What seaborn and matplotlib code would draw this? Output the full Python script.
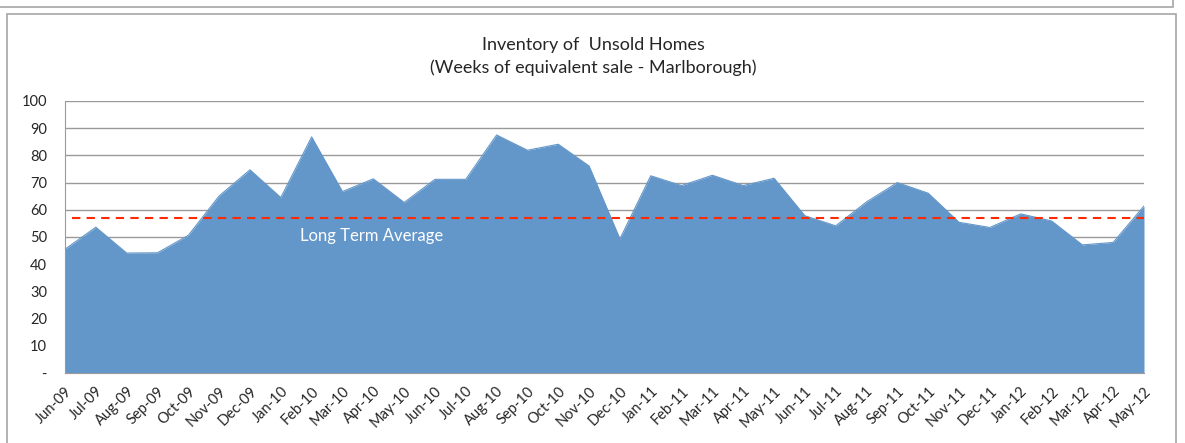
import matplotlib
matplotlib.use('Agg')
import matplotlib.pyplot as plt
import seaborn as sns
import numpy as np
import pandas as pd
from matplotlib.patches import Rectangle

months = ['Jun-09', 'Jul-09', 'Aug-09', 'Sep-09', 'Oct-09', 'Nov-09', 'Dec-09',
          'Jan-10', 'Feb-10', 'Mar-10', 'Apr-10', 'May-10', 'Jun-10', 'Jul-10',
          'Aug-10', 'Sep-10', 'Oct-10', 'Nov-10', 'Dec-10', 'Jan-11', 'Feb-11',
          'Mar-11', 'Apr-11', 'May-11', 'Jun-11', 'Jul-11', 'Aug-11', 'Sep-11',
          'Oct-11', 'Nov-11', 'Dec-11', 'Jan-12', 'Feb-12', 'Mar-12', 'Apr-12',
          'May-12']
weeks = [45.5, 53.6, 44.1, 44.2, 50.6, 65.1, 74.7, 64.5, 86.8, 66.7, 71.4, 62.7,
         71.2, 71.2, 87.5, 81.9, 84.1, 76.1, 49.3, 72.5, 68.9, 72.7, 68.9, 71.6,
         57.8, 54.1, 62.9, 70.0, 66.1, 55.4, 53.5, 58.5, 55.9, 47.1, 48.0, 61.4]
long_term_avg = 56.9
y_ticks = [0, 10, 20, 30, 40, 50, 60, 70, 80, 90, 100]
y_labels = ['-'] + [str(v) for v in y_ticks[1:]]

df = pd.DataFrame({'month': months, 'weeks': weeks})
df['pos'] = np.arange(len(df))

sns.set_style('white')
plt.rcParams['font.family'] = ['Lato', 'DejaVu Sans']

fig = plt.figure(figsize=(11.85, 4.43), dpi=100)

# chart frames (the top one is the edge of a previous chart)
fig.patches.append(Rectangle((-0.01, 1 - 7 / 443), 1185 / 1185, 0.05, transform=fig.transFigure,
                             fill=False, edgecolor='#a6a6a6', lw=1.2))
fig.patches.append(Rectangle((7 / 1185, -0.05), 1169 / 1185, 1 - 14 / 443 + 0.05, transform=fig.transFigure,
                             fill=False, edgecolor='#a6a6a6', lw=1.2))

ax = fig.add_axes([65 / 1185, 1 - 373 / 443, (1144 - 65) / 1185, (373 - 101) / 443])

blue = '#6396c9'
for v in y_ticks[1:]:
    ax.axhline(v, color='#9a9a9a', lw=1, zorder=0)
ax.fill_between(df['pos'], df['weeks'], 0, color=blue, lw=0, zorder=2)
sns.lineplot(data=df, x='pos', y='weeks', color=blue, lw=0.8, ax=ax, zorder=3)
ax.hlines(long_term_avg, 0.22, len(df) - 1, colors='#ff2a00', linestyles=(0, (4, 3)), lw=1.5, zorder=4)
ax.text(9.93, 50.5, 'Long Term Average', color='white', fontsize=12, ha='center', va='center', zorder=5)

ax.set_xlim(0, len(df) - 1)
ax.set_ylim(0, 100)
ax.set_yticks(y_ticks)
ax.set_yticklabels(y_labels, fontsize=10.5)
ax.set_xticks(df['pos'])
ax.set_xticklabels(months, rotation=45, ha='right', rotation_mode='anchor', fontsize=10.5)
ax.tick_params(axis='both', length=5, color='#9a9a9a', direction='out', width=1, pad=3)
ax.tick_params(axis='y', pad=8)
ax.set_xlabel('')
ax.set_ylabel('')
for s in ['top', 'right']:
    ax.spines[s].set_visible(False)
ax.spines['left'].set_color('#9a9a9a')
ax.spines['bottom'].set_color('#9a9a9a')

fig.text(593 / 1185, 1 - 45 / 443, 'Inventory of  Unsold Homes', ha='center', va='center', fontsize=13)
fig.text(593 / 1185, 1 - 68 / 443, '(Weeks of equivalent sale - Marlborough)', ha='center', va='center', fontsize=13)

fig.savefig('out.png', dpi=100)
